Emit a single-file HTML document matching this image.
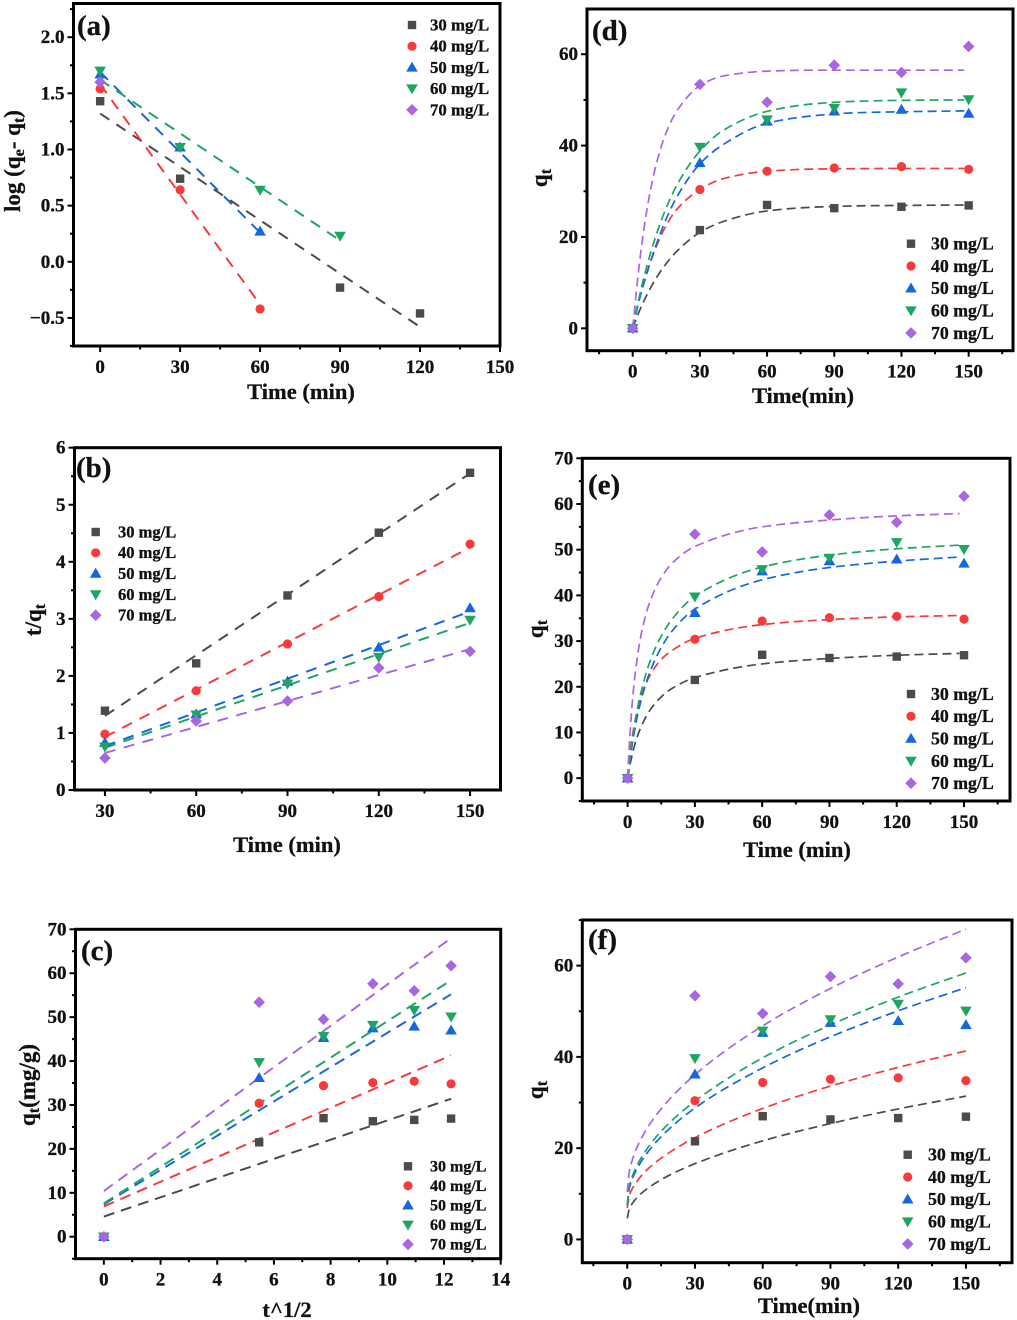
<!DOCTYPE html>
<html lang="en">
<head>
<meta charset="utf-8">
<title>Adsorption kinetics panels</title>
<style>
html,body{margin:0;padding:0;background:#fff;}
svg{display:block;}
text{font-family:"Liberation Serif",serif;font-weight:bold;fill:#111;stroke:#111;stroke-width:.3px;}
</style>
</head>
<body>
<svg id="figure" xmlns="http://www.w3.org/2000/svg" width="1017" height="1320" viewBox="0 0 1017 1320"></svg>
<script>
// ---------- categories ----------
const seriesLabels = ['30 mg/L', '40 mg/L', '50 mg/L', '60 mg/L', '70 mg/L'];
const seriesKeys = ['30', '40', '50', '60', '70'];

// ---------- shared experimental values ----------
const timeMin = [0, 30, 60, 90, 120, 150];
const sqrtTime = [0, 5.48, 7.75, 9.49, 10.95, 12.25];
const qt30 = [0, 21.5, 27.0, 26.3, 26.6, 26.9];
const qt40 = [0, 30.4, 34.4, 35.1, 35.4, 34.8];
const qt50 = [0, 36.2, 45.3, 47.5, 47.9, 47.0];
const qt60 = [0, 39.7, 45.7, 48.2, 51.6, 50.1];
const qt70 = [0, 53.4, 49.5, 57.6, 56.0, 61.7];

// ---------- panel (a) ----------
const aTime30 = [0, 30, 90, 120];
const aLog30 = [1.43, 0.74, -0.23, -0.46];
const aTime40 = [0, 30, 60];
const aLog40 = [1.54, 0.64, -0.42];
const aTime50 = [0, 30, 60];
const aLog50 = [1.67, 1.02, 0.27];
const aTime60 = [0, 30, 60, 90];
const aLog60 = [1.70, 1.02, 0.64, 0.23];
const aTime70 = [0];
const aLog70 = [1.60];
const aFitTime30 = [0, 120];
const aFit30 = [1.32, -0.58];
const aFitTime40 = [0, 60];
const aFit40 = [1.58, -0.38];
const aFitTime50 = [0, 60];
const aFit50 = [1.69, 0.26];
const aFitTime60 = [0, 90];
const aFit60 = [1.62, 0.19];

// ---------- panel (b) ----------
const bTime = [30, 60, 90, 120, 150];
const bRatio30 = [1.39, 2.22, 3.41, 4.51, 5.56];
const bRatio40 = [0.98, 1.74, 2.56, 3.39, 4.31];
const bRatio50 = [0.83, 1.33, 1.90, 2.50, 3.19];
const bRatio60 = [0.76, 1.32, 1.86, 2.33, 2.98];
const bRatio70 = [0.56, 1.21, 1.56, 2.14, 2.43];
const bFitTime = [30, 150];
const bFit30 = [1.30, 5.55];
const bFit40 = [0.93, 4.25];
const bFit50 = [0.77, 3.13];
const bFit60 = [0.74, 2.93];
const bFit70 = [0.65, 2.47];

// ---------- panel (c) ----------
const cFitRoot = [0, 12.25];
const cFit30 = [4.6, 31.4];
const cFit40 = [6.9, 41.3];
const cFit50 = [7.4, 55.2];
const cFit60 = [7.6, 58.4];
const cFit70 = [10.4, 68.0];

// ---------- panel (d) ----------
const dFitTime = [0, 3, 6, 10, 15, 20, 30, 40, 60, 80, 100, 120, 148];
const dFit30 = [0, 3.8, 7.0, 10.6, 14.2, 17.0, 21.0, 23.3, 25.7, 26.5, 26.8, 26.9, 27.0];
const dFit40 = [0, 6.6, 11.7, 17.2, 22.6, 26.2, 30.4, 32.7, 34.4, 34.85, 34.95, 35.0, 35.0];
const dFit50 = [0, 6.3, 11.5, 17.6, 24.0, 29.0, 36.0, 40.1, 44.9, 46.5, 47.2, 47.4, 47.6];
const dFit60 = [0, 7.0, 13.0, 19.7, 26.4, 31.6, 38.8, 43.2, 47.5, 49.1, 49.7, 49.9, 50.0];
const dFit70 = [0, 14.2, 24.9, 34.9, 42.9, 47.8, 53.1, 55.2, 56.3, 56.5, 56.5, 56.5, 56.5];

// ---------- panel (e) ----------
const eFitTime = [0, 1, 2, 3, 5, 7, 10, 15, 20, 30, 60, 90, 120, 148];
const eFit30 = [0, 2.8, 5.0, 7.0, 10.0, 12.3, 14.9, 17.8, 19.7, 22.0, 25.0, 26.2, 26.9, 27.3];
const eFit40 = [0, 5.0, 8.8, 11.7, 16.2, 19.3, 22.5, 26.0, 28.0, 30.6, 33.6, 34.7, 35.3, 35.6];
const eFit50 = [0, 3.9, 7.2, 10.2, 15.0, 18.8, 23.3, 28.6, 32.3, 37.0, 43.4, 46.1, 47.5, 48.4];
const eFit60 = [0, 4.4, 8.1, 11.4, 16.7, 20.8, 25.6, 31.1, 34.9, 39.8, 46.2, 48.8, 50.2, 51.0];
const eFit70 = [0, 9.2, 16.0, 21.2, 28.6, 33.6, 38.7, 43.9, 47.1, 50.7, 55.0, 56.5, 57.4, 57.9];

// ---------- panel (f) ----------
const fFitTime = [0, 1, 2, 4, 8, 15, 30, 60, 90, 120, 150];
const fFit30 = [4.6, 6.8, 7.7, 9.0, 10.8, 13.1, 16.6, 21.6, 25.4, 28.6, 31.4];
const fFit40 = [6.9, 9.7, 10.9, 12.5, 14.9, 17.8, 22.3, 28.7, 33.6, 37.7, 41.3];
const fFit50 = [7.4, 11.3, 12.9, 15.2, 18.4, 22.5, 28.8, 37.6, 44.4, 50.1, 55.2];
const fFit60 = [7.6, 11.8, 13.5, 15.9, 19.3, 23.7, 30.3, 39.8, 47.0, 53.1, 58.4];
const fFit70 = [10.4, 15.1, 17.0, 19.8, 23.7, 28.6, 36.1, 46.8, 55.0, 61.9, 68.0];

// ---------- tick labels ----------
const timeTicks = ['0', '30', '60', '90', '120', '150'];
const bTimeTicks = ['30', '60', '90', '120', '150'];
const rootTicks = ['0', '2', '4', '6', '8', '10', '12', '14'];
const aYTicks = ['-0.5', '0.0', '0.5', '1.0', '1.5', '2.0'];
const bYTicks = ['0', '1', '2', '3', '4', '5', '6'];
const q70Ticks = ['0', '10', '20', '30', '40', '50', '60', '70'];
const q60Ticks = ['0', '20', '40', '60'];

const colors = ['#4b4b4b', '#f83a3c', '#1467e0', '#1fa562', '#a866e0'];
const NS = 'http://www.w3.org/2000/svg';
const root = document.getElementById('figure');

function mk(tag, attrs, parent) {
  const el = document.createElementNS(NS, tag);
  for (const k in attrs) el.setAttribute(k, attrs[k]);
  parent.appendChild(el);
  return el;
}

function smoothPath(xs, ys) {
  const n = xs.length;
  if (n < 3) return 'M' + xs[0] + ' ' + ys[0] + 'L' + xs[n - 1] + ' ' + ys[n - 1];
  const d = [], m = [];
  for (let i = 0; i < n - 1; i++) d.push((ys[i + 1] - ys[i]) / (xs[i + 1] - xs[i]));
  m.push(d[0]);
  for (let i = 1; i < n - 1; i++) {
    if (d[i - 1] * d[i] <= 0) { m.push(0); continue; }
    const h0 = xs[i] - xs[i - 1], h1 = xs[i + 1] - xs[i];
    m.push((h0 + h1) * 3 / ((2 * h1 + h0) / d[i - 1] + (h1 + 2 * h0) / d[i]));
  }
  m.push(d[n - 2]);
  let p = 'M' + xs[0].toFixed(2) + ' ' + ys[0].toFixed(2);
  for (let i = 0; i < n - 1; i++) {
    const h = (xs[i + 1] - xs[i]) / 3;
    p += 'C' + (xs[i] + h).toFixed(2) + ' ' + (ys[i] + m[i] * h).toFixed(2) + ' ' +
      (xs[i + 1] - h).toFixed(2) + ' ' + (ys[i + 1] - m[i + 1] * h).toFixed(2) + ' ' +
      xs[i + 1].toFixed(2) + ' ' + ys[i + 1].toFixed(2);
  }
  return p;
}

function marker(idx, x, y, parent) {
  const c = colors[idx];
  if (idx === 0) return mk('rect', { x: x - 4.2, y: y - 4.2, width: 8.4, height: 8.4, fill: c }, parent);
  if (idx === 1) return mk('circle', { cx: x, cy: y, r: 4.6, fill: c }, parent);
  let pts;
  if (idx === 2) pts = [[x, y - 5.8], [x + 5.8, y + 4.2], [x - 5.8, y + 4.2]];
  if (idx === 3) pts = [[x, y + 5.8], [x + 5.8, y - 4.2], [x - 5.8, y - 4.2]];
  if (idx === 4) pts = [[x, y - 5.8], [x + 5.8, y], [x, y + 5.8], [x - 5.8, y]];
  return mk('polygon', { points: pts.map(p => p.join(',')).join(' '), fill: c }, parent);
}

function drawPanel(p) {
  const g = mk('g', {}, root);
  
  

  const sx = v => p.left + (v - p.xDom[0]) / (p.xDom[1] - p.xDom[0]) * (p.right - p.left);
  const sy = v => p.bottom - (v - p.yDom[0]) / (p.yDom[1] - p.yDom[0]) * (p.bottom - p.top);

  // fit lines
  p.fits.forEach((f, i) => {
    if (!f) return;
    const line = mk('path', {
      d: smoothPath(f[0].map(sx), f[1].map(sy)), fill: 'none', stroke: colors[i],
      'stroke-width': p.lineW, 'stroke-dasharray': p.dash
    }, g);
    
    
  });

  // scatter points
  p.points.forEach((s, i) => {
    s[0].forEach((xv, j) => {
      const dot = marker(i, sx(xv), sy(s[1][j]), g);
      
      
    });
  });

  // frame
  const frame = mk('rect', {
    x: p.left, y: p.top, width: p.right - p.left, height: p.bottom - p.top,
    fill: 'none', stroke: '#000', 'stroke-width': 3
  }, g);
  
  

  // x ticks
  p.xTicks.forEach(t => {
    const v = Number(t), x = sx(v);
    const tick = mk('line', { x1: x, x2: x, y1: p.bottom, y2: p.bottom + 6, stroke: '#000', 'stroke-width': 2 }, g);
    
    
    const lab = mk('text', { x: x, y: p.bottom + 27, 'font-size': 19, 'text-anchor': 'middle' }, g);
    lab.textContent = t;
    
    
  });
  for (let v = p.xMinor[0]; v <= p.xDom[1] + 1e-9; v += p.xMinor[1]) {
    if (v < p.xDom[0]) continue;
    const x = sx(v);
    const tick = mk('line', { x1: x, x2: x, y1: p.bottom, y2: p.bottom + 3.5, stroke: '#000', 'stroke-width': 2 }, g);
    
    
  }

  // y ticks
  p.yTicks.forEach(t => {
    const v = Number(t), y = sy(v);
    const tick = mk('line', { x1: p.left, x2: p.left - 6, y1: y, y2: y, stroke: '#000', 'stroke-width': 2 }, g);
    
    
    const lab = mk('text', { x: p.left - 9, y: y + 6, 'font-size': 19, 'text-anchor': 'end' }, g);
    lab.textContent = v < 0 ? '\u2212' + t.slice(1) : t;
    
    
  });
  for (let v = p.yMinor[0]; v <= p.yDom[1] + 1e-9; v += p.yMinor[1]) {
    if (v < p.yDom[0]) continue;
    const y = sy(v);
    const tick = mk('line', { x1: p.left, x2: p.left - 3.5, y1: y, y2: y, stroke: '#000', 'stroke-width': 2 }, g);
    
    
  }

  // axis titles
  const xt = mk('text', { x: p.xTitle[0], y: p.xTitle[1], 'font-size': 22.5, 'text-anchor': 'middle' }, g);
  xt.textContent = p.xLabel;
  
  

  const yt = mk('text', {
    transform: 'translate(' + p.yTitle[0] + ' ' + p.yTitle[1] + ') rotate(-90)',
    'font-size': 23, 'text-anchor': 'middle'
  }, g);
  
  
  p.yLabel.forEach(part => {
    const ts = mk('tspan', part[1] ? { 'font-size': 16, dy: 4 } : { dy: part[2] ? -4 : 0 }, yt);
    ts.textContent = part[0];
  });

  // panel tag
  const tag = mk('text', { x: p.tag[0], y: p.tag[1], 'font-size': 29 }, g);
  tag.textContent = '(' + p.id + ')';
  
  

  // legend
  const lg = mk('g', {}, g);
  
  
  seriesLabels.forEach((label, i) => {
    const y = p.legend.y + i * p.legend.step;
    const sym = marker(i, p.legend.mx, y, lg);
    
    
    const txt = mk('text', { x: p.legend.tx, y: y + p.legend.fs * 0.33, 'font-size': p.legend.fs }, lg);
    txt.textContent = label;
    
    
  });
}

const qtAll = [qt30, qt40, qt50, qt60, qt70];
const pts = xs => qtAll.map(q => [xs, q]);
const qtLabel = [['q'], ['t', 1]];
const curveDash = '9 5';

drawPanel({
  id: 'a', left: 73.5, right: 500, top: 3.5, bottom: 346,
  xDom: [-10, 150], yDom: [-0.75, 2.3], xTicks: timeTicks, xMinor: [15, 30],
  yTicks: aYTicks, yMinor: [-0.75, 0.5],
  xLabel: 'Time (min)', xTitle: [301, 399],
  yLabel: [['log (q'], ['e', 1], ['- q', 0, 1], ['t', 1], [')', 0, 1]], yTitle: [20, 161],
  tag: [77, 35], lineW: 2, dash: '11 8.5',
  legend: { mx: 412, tx: 430, y: 25, step: 21.2, fs: 16.8 },
  points: [[aTime30, aLog30], [aTime40, aLog40], [aTime50, aLog50], [aTime60, aLog60], [aTime70, aLog70]],
  fits: [[aFitTime30, aFit30], [aFitTime40, aFit40], [aFitTime50, aFit50], [aFitTime60, aFit60], null]
});

drawPanel({
  id: 'b', left: 74.5, right: 500.5, top: 447.7, bottom: 790,
  xDom: [20, 160], yDom: [0, 6], xTicks: bTimeTicks, xMinor: [45, 30],
  yTicks: bYTicks, yMinor: [0.5, 1],
  xLabel: 'Time (min)', xTitle: [287, 852],
  yLabel: [['t/q'], ['t', 1]], yTitle: [41, 620],
  tag: [76, 477], lineW: 2, dash: '11 8.5',
  legend: { mx: 95.7, tx: 118, y: 532, step: 20.8, fs: 16.5 },
  points: [[bTime, bRatio30], [bTime, bRatio40], [bTime, bRatio50], [bTime, bRatio60], [bTime, bRatio70]],
  fits: [[bFitTime, bFit30], [bFitTime, bFit40], [bFitTime, bFit50], [bFitTime, bFit60], [bFitTime, bFit70]]
});

drawPanel({
  id: 'c', left: 75.5, right: 500.7, top: 929.3, bottom: 1258.7,
  xDom: [-1, 14], yDom: [-5, 70], xTicks: rootTicks, xMinor: [1, 2],
  yTicks: q70Ticks, yMinor: [-5, 10],
  xLabel: 't^1/2', xTitle: [287, 1317],
  yLabel: [['q'], ['t', 1], ['(mg/g)', 0, 1]], yTitle: [35, 1085],
  tag: [81, 960], lineW: 2, dash: '11 7',
  legend: { mx: 408, tx: 430, y: 1166.3, step: 19.5, fs: 16 },
  points: pts(sqrtTime),
  fits: [[cFitRoot, cFit30], [cFitRoot, cFit40], [cFitRoot, cFit50], [cFitRoot, cFit60], [cFitRoot, cFit70]]
});

drawPanel({
  id: 'd', left: 587, right: 1013, top: 9, bottom: 350.7,
  xDom: [-20.4, 169.8], yDom: [-4.9, 69.9], xTicks: timeTicks, xMinor: [-15, 30],
  yTicks: q60Ticks, yMinor: [10, 20],
  xLabel: 'Time(min)', xTitle: [803, 403],
  yLabel: qtLabel, yTitle: [547, 178],
  tag: [592, 40], lineW: 1.7, dash: curveDash,
  legend: { mx: 911, tx: 931, y: 243.7, step: 22.3, fs: 17.8 },
  points: pts(timeMin),
  fits: [[dFitTime, dFit30], [dFitTime, dFit40], [dFitTime, dFit50], [dFitTime, dFit60], [dFitTime, dFit70]]
});

drawPanel({
  id: 'e', left: 582.3, right: 1010, top: 458.3, bottom: 801,
  xDom: [-20.2, 170.5], yDom: [-5, 70], xTicks: timeTicks, xMinor: [-15, 30],
  yTicks: q70Ticks, yMinor: [-5, 10],
  xLabel: 'Time (min)', xTitle: [797, 857],
  yLabel: qtLabel, yTitle: [543, 629],
  tag: [588, 494], lineW: 1.7, dash: curveDash,
  legend: { mx: 911, tx: 931, y: 694, step: 22.3, fs: 17.8 },
  points: pts(timeMin),
  fits: [[eFitTime, eFit30], [eFitTime, eFit40], [eFitTime, eFit50], [eFitTime, eFit60], [eFitTime, eFit70]]
});

drawPanel({
  id: 'f', left: 582.3, right: 1012, top: 920, bottom: 1262.7,
  xDom: [-19.9, 170.4], yDom: [-5.1, 70], xTicks: timeTicks, xMinor: [-15, 30],
  yTicks: q60Ticks, yMinor: [10, 20],
  xLabel: 'Time(min)', xTitle: [809, 1313],
  yLabel: qtLabel, yTitle: [543, 1090],
  tag: [588, 949], lineW: 1.7, dash: curveDash,
  legend: { mx: 907.7, tx: 928, y: 1154.7, step: 22.3, fs: 17.8 },
  points: pts(timeMin),
  fits: [[fFitTime, fFit30], [fFitTime, fFit40], [fFitTime, fFit50], [fFitTime, fFit60], [fFitTime, fFit70]]
});
</script>
</body>
</html>
